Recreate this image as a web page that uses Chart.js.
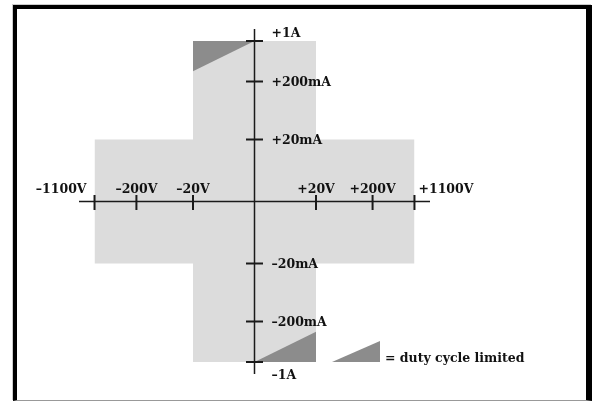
<!DOCTYPE html>
<html>
<head>
<meta charset="utf-8">
<script src="https://cdn.jsdelivr.net/npm/chart.js@4/dist/chart.umd.min.js"></script>
<style>
  html, body { margin: 0; padding: 0; background: #fff; }
  .frame {
    position: absolute; left: 13px; top: 5px;
    width: 569px; height: 391px;
    border-left: 4px solid #000; border-top: 4px solid #000;
    border-right: 6px solid #000; border-bottom: 1px solid #999;
    box-shadow: -1px -1px 0 0 #ccc;
  }
  #chart { position: absolute; left: 0; top: 0; }
</style>
</head>
<body>
<div class="frame"></div>
<canvas id="chart" width="592" height="401"></canvas>
<script>
// voltage ticks (V) and current ticks (mA)
const xTickValues = [-1100, -200, -20, 20, 200, 1100];
const xTickLabels = ['–1100V', '–200V', '–20V', '+20V', '+200V', '+1100V'];
const yTickValues = [1000, 200, 20, -20, -200, -1000];
const yTickLabels = ['+1A', '+200mA', '+20mA', '–20mA', '–200mA', '–1A'];

// operating area: wide low-current band and narrow high-current band
const lowCurrentBand = [{x: -1100, y: 20}, {x: 1100, y: 20}];
const lowCurrentFloor = -20;
const highCurrentBand = [{x: -20, y: 1000}, {x: 20, y: 1000}];
const highCurrentFloor = -1000;

// duty cycle limited corners
const dutyTop = [{x: -20, y: 300}, {x: 0, y: 1000}];
const dutyTopEdge = 1000;
const dutyBottom = [{x: 0, y: -1000}, {x: 20, y: -300}];
const dutyBottomEdge = -1000;

const legendText = '= duty cycle limited';

const LIGHT = '#dcdcdc';
const DARK = '#8c8c8c';
const FONT = 'bold 12.5px "DejaVu Serif"';

// linear near zero, logarithmic beyond the threshold
class SymlogScale extends Chart.LinearScale {
    tf(v) {
        const {threshold, decade} = this.options.symlog;
        const a = Math.abs(v);
        const t = a <= threshold ? a / threshold : 1 + Math.log10(a / threshold) * decade;
        return Math.sign(v) * t;
    }
    getPixelForValue(value) {
        const t0 = this.tf(this.min);
        const t1 = this.tf(this.max);
        return this.getPixelForDecimal((this.tf(value) - t0) / (t1 - t0));
    }
}
SymlogScale.id = 'symlog';
Chart.register(SymlogScale);

const crossAxes = {
    id: 'crossAxes',
    afterDatasetsDraw(chart) {
        const {ctx, chartArea: a, scales: {x, y}} = chart;
        const x0 = x.getPixelForValue(0);
        const y0 = y.getPixelForValue(0);
        ctx.save();
        ctx.strokeStyle = '#1a1a1a';
        ctx.lineWidth = 1.5;
        ctx.beginPath();
        ctx.moveTo(a.left, y0);
        ctx.lineTo(a.right, y0);
        ctx.moveTo(x0, a.top);
        ctx.lineTo(x0, a.bottom);
        ctx.stroke();

        ctx.lineWidth = 2;
        ctx.beginPath();
        xTickValues.forEach(v => {
            const px = x.getPixelForValue(v);
            ctx.moveTo(px, y0 - 6.5);
            ctx.lineTo(px, y0 + 8.5);
        });
        yTickValues.forEach(v => {
            const py = y.getPixelForValue(v);
            ctx.moveTo(x0 - 8.5, py);
            ctx.lineTo(x0 + 8.5, py);
        });
        ctx.stroke();

        ctx.fillStyle = '#111';
        ctx.font = FONT;
        ctx.textBaseline = 'alphabetic';
        xTickLabels.forEach((label, i) => {
            const px = x.getPixelForValue(xTickValues[i]);
            if (i === 0) {
                ctx.textAlign = 'right';
                ctx.fillText(label, px - 8, y0 - 9);
            } else if (i === xTickLabels.length - 1) {
                ctx.textAlign = 'left';
                ctx.fillText(label, px + 4, y0 - 9);
            } else {
                ctx.textAlign = 'center';
                ctx.fillText(label, px, y0 - 9);
            }
        });
        ctx.textAlign = 'left';
        yTickLabels.forEach((label, i) => {
            const py = y.getPixelForValue(yTickValues[i]);
            let off = 4.5;
            if (i === 0) off = -4;
            if (i === yTickLabels.length - 1) off = 16.5;
            ctx.fillText(label, x0 + 17, py + off);
        });

        // legend swatch
        const lx = a.right - 98, ly = a.bottom - 12;
        ctx.fillStyle = DARK;
        ctx.beginPath();
        ctx.moveTo(lx, ly);
        ctx.lineTo(lx + 48, ly);
        ctx.lineTo(lx + 48, ly - 21);
        ctx.closePath();
        ctx.fill();
        ctx.fillStyle = '#111';
        ctx.fillText(legendText, lx + 53, ly);
        ctx.restore();
    }
};

const area = (data, floor, color, order) => ({
    data: data,
    fill: {value: floor},
    backgroundColor: color,
    borderColor: 'transparent',
    borderWidth: 0,
    pointRadius: 0,
    order: order
});

new Chart(document.getElementById('chart'), {
    type: 'line',
    data: {
        datasets: [
            area(dutyTop, dutyTopEdge, DARK, 1),
            area(dutyBottom, dutyBottomEdge, DARK, 1),
            area(lowCurrentBand, lowCurrentFloor, LIGHT, 2),
            area(highCurrentBand, highCurrentFloor, LIGHT, 2)
        ]
    },
    options: {
        responsive: false,
        animation: false,
        events: [],
        layout: { padding: { left: 79, right: 162, top: 29, bottom: 27 } },
        plugins: { legend: { display: false }, tooltip: { enabled: false } },
        scales: {
            x: { type: 'symlog', display: false, bounds: 'data', min: -2070, max: 2070,
                 symlog: { threshold: 20, decade: 0.92 } },
            y: { type: 'symlog', display: false, bounds: 'data', min: -1610, max: 1610,
                 symlog: { threshold: 20, decade: 0.935 } }
        }
    },
    plugins: [crossAxes]
});
</script>
</body>
</html>
